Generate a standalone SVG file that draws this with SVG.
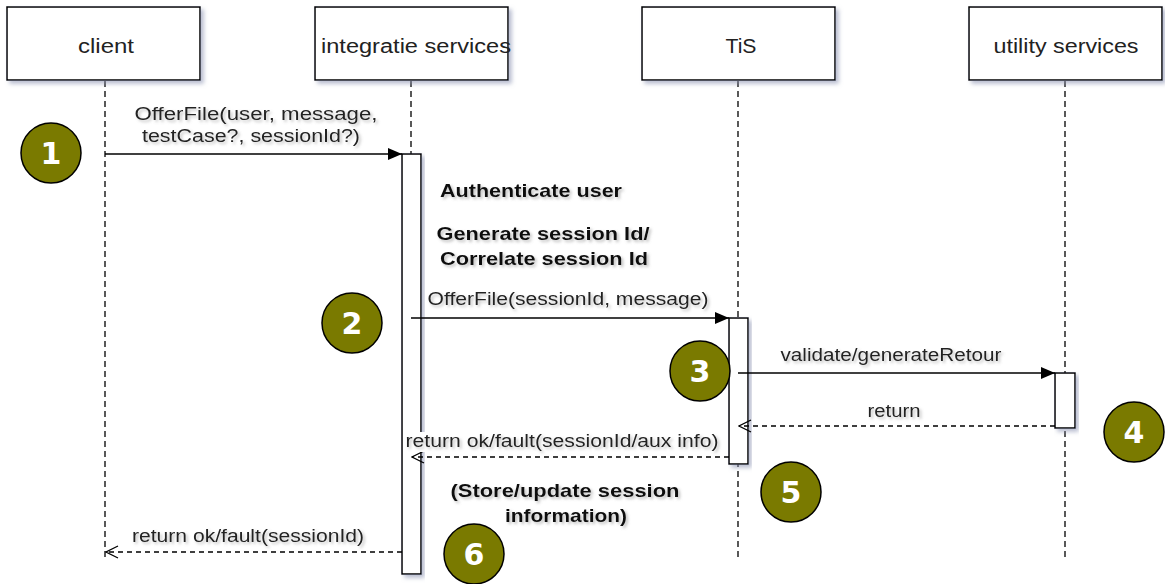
<svg xmlns="http://www.w3.org/2000/svg" width="1165" height="584" viewBox="0 0 1165 584">
<style>
.box{fill:#fff;stroke:#000;stroke-width:1.5}
.bar{fill:#fff;stroke:#000;stroke-width:1.5}
.life{stroke:#000;stroke-width:1.3;stroke-dasharray:6 4;fill:none}
.msg{stroke:#000;stroke-width:1.5;fill:none}
.ret{stroke:#000;stroke-width:1.3;stroke-dasharray:5 4;fill:none}
.t{font-family:"Liberation Sans",Arial,sans-serif;font-size:20px;fill:#222;text-anchor:middle}
.l{font-family:"Liberation Sans",Arial,sans-serif;font-size:17.5px;fill:#222;text-anchor:middle}
.n{font-family:"Liberation Sans",Arial,sans-serif;font-size:19px;font-weight:bold;fill:#111;text-anchor:middle}
.c{fill:#7a7a00;stroke:#000;stroke-width:1.5}
.cn{font-family:"DejaVu Sans",Verdana,sans-serif;font-size:30px;font-weight:bold;fill:#fff;text-anchor:middle}
.bg{fill:#fff}
</style>
<defs>
<filter id="sh" x="-20%" y="-20%" width="140%" height="140%">
<feGaussianBlur in="SourceAlpha" stdDeviation="2"/>
<feOffset dx="3" dy="3" result="b"/>
<feFlood flood-color="#8890b0" flood-opacity="0.6"/>
<feComposite in2="b" operator="in"/>
<feMerge><feMergeNode/><feMergeNode in="SourceGraphic"/></feMerge>
</filter>
<filter id="tsh" x="-10%" y="-30%" width="120%" height="160%">
<feGaussianBlur in="SourceAlpha" stdDeviation="1.5"/>
<feOffset dx="2" dy="2" result="b"/>
<feFlood flood-color="#808080" flood-opacity="0.5"/>
<feComposite in2="b" operator="in"/>
<feMerge><feMergeNode/><feMergeNode in="SourceGraphic"/></feMerge>
</filter>
<marker id="fill" viewBox="0 0 14 12" refX="14" refY="6" markerWidth="14" markerHeight="12" markerUnits="userSpaceOnUse" orient="auto">
<path d="M0,0 L14,6 L0,12 Z" fill="#000"/>
</marker>
<marker id="open" viewBox="0 0 14 14" refX="13" refY="7" markerWidth="14" markerHeight="14" markerUnits="userSpaceOnUse" orient="auto">
<path d="M1,1 L13,7 L1,13" fill="none" stroke="#000" stroke-width="1.3"/>
</marker>
</defs>

<g id="lifelines">
<line class="life" x1="105" y1="81" x2="105" y2="558"/>
<line class="life" x1="411" y1="81" x2="411" y2="154"/>
<line class="life" x1="738" y1="81" x2="738" y2="558"/>
<line class="life" x1="1065" y1="81" x2="1065" y2="558"/>
</g>

<g id="client">
<rect class="box" x="7" y="7" width="193" height="73" filter="url(#sh)"/>
<text class="t" x="106" y="53" textLength="56" lengthAdjust="spacingAndGlyphs">client</text>
</g>
<g id="integratie-services">
<rect class="box" x="315" y="7" width="193" height="73" filter="url(#sh)"/>
<text class="t" x="416" y="53" textLength="190" lengthAdjust="spacingAndGlyphs">integratie services</text>
</g>
<g id="tis">
<rect class="box" x="642" y="7" width="193" height="73" filter="url(#sh)"/>
<text class="t" x="741" y="53" textLength="31" lengthAdjust="spacingAndGlyphs">TiS</text>
</g>
<g id="utility-services">
<rect class="box" x="969" y="7" width="193" height="73" filter="url(#sh)"/>
<text class="t" x="1066" y="53" textLength="145" lengthAdjust="spacingAndGlyphs">utility services</text>
</g>

<g id="activation-integratie">
<rect class="bar" x="402" y="154" width="19" height="420" filter="url(#sh)"/>
</g>
<g id="activation-tis">
<rect class="bar" x="729" y="318" width="19" height="146" filter="url(#sh)"/>
</g>
<g id="activation-utility">
<rect class="bar" x="1055" y="373" width="20" height="55" filter="url(#sh)"/>
</g>

<g id="connectors">
<line class="msg" x1="105" y1="154" x2="402" y2="154" marker-end="url(#fill)"/>
<line class="msg" x1="411" y1="318" x2="729" y2="318" marker-end="url(#fill)"/>
<line class="msg" x1="738" y1="373" x2="1055" y2="373" marker-end="url(#fill)"/>
<line class="ret" x1="1055" y1="426" x2="739" y2="426" marker-end="url(#open)"/>
<line class="ret" x1="729" y1="457" x2="412" y2="457" marker-end="url(#open)"/>
<line class="ret" x1="402" y1="552" x2="106" y2="552" marker-end="url(#open)"/>
</g>

<g id="connector-labels">
<rect class="bg" x="133" y="103" width="248" height="42"/>
<rect class="bg" x="425" y="289" width="287" height="20"/>
<rect class="bg" x="778" y="345" width="226" height="20"/>
<rect class="bg" x="865" y="401" width="58" height="20"/>
<rect class="bg" x="403" y="432" width="318" height="20"/>
<rect class="bg" x="129" y="527" width="238" height="20"/>
<g filter="url(#tsh)">
<text class="l" x="256" y="120" textLength="243" lengthAdjust="spacingAndGlyphs">OfferFile(user, message,</text>
<text class="l" x="251" y="142" textLength="218" lengthAdjust="spacingAndGlyphs">testCase?, sessionId?)</text>
<text class="l" x="568" y="305" textLength="281" lengthAdjust="spacingAndGlyphs">OfferFile(sessionId, message)</text>
<text class="l" x="891" y="361" textLength="221" lengthAdjust="spacingAndGlyphs">validate/generateRetour</text>
<text class="l" x="894" y="417" textLength="53" lengthAdjust="spacingAndGlyphs">return</text>
<text class="l" x="562" y="447" textLength="313" lengthAdjust="spacingAndGlyphs">return ok/fault(sessionId/aux info)</text>
<text class="l" x="248" y="542" textLength="232" lengthAdjust="spacingAndGlyphs">return ok/fault(sessionId)</text>
</g>
</g>

<g id="notes" filter="url(#tsh)">
<text class="n" x="531" y="197" textLength="182" lengthAdjust="spacingAndGlyphs">Authenticate user</text>
<text class="n" x="543" y="240" textLength="213" lengthAdjust="spacingAndGlyphs">Generate session Id/</text>
<text class="n" x="544" y="265" textLength="208" lengthAdjust="spacingAndGlyphs">Correlate session Id</text>
<text class="n" x="565" y="497" textLength="229" lengthAdjust="spacingAndGlyphs">(Store/update session</text>
<text class="n" x="566" y="522" textLength="122" lengthAdjust="spacingAndGlyphs">information)</text>
</g>

<g id="step-1"><circle class="c" cx="51" cy="153" r="30"/><text class="cn" x="51" y="164">1</text></g>
<g id="step-2"><circle class="c" cx="352" cy="323" r="30"/><text class="cn" x="352" y="334">2</text></g>
<g id="step-3"><circle class="c" cx="700" cy="371" r="30"/><text class="cn" x="700" y="382">3</text></g>
<g id="step-4"><circle class="c" cx="1134" cy="432" r="30"/><text class="cn" x="1134" y="443">4</text></g>
<g id="step-5"><circle class="c" cx="791" cy="492" r="30"/><text class="cn" x="791" y="503">5</text></g>
<g id="step-6"><circle class="c" cx="474" cy="554" r="30"/><text class="cn" x="474" y="565">6</text></g>
</svg>
